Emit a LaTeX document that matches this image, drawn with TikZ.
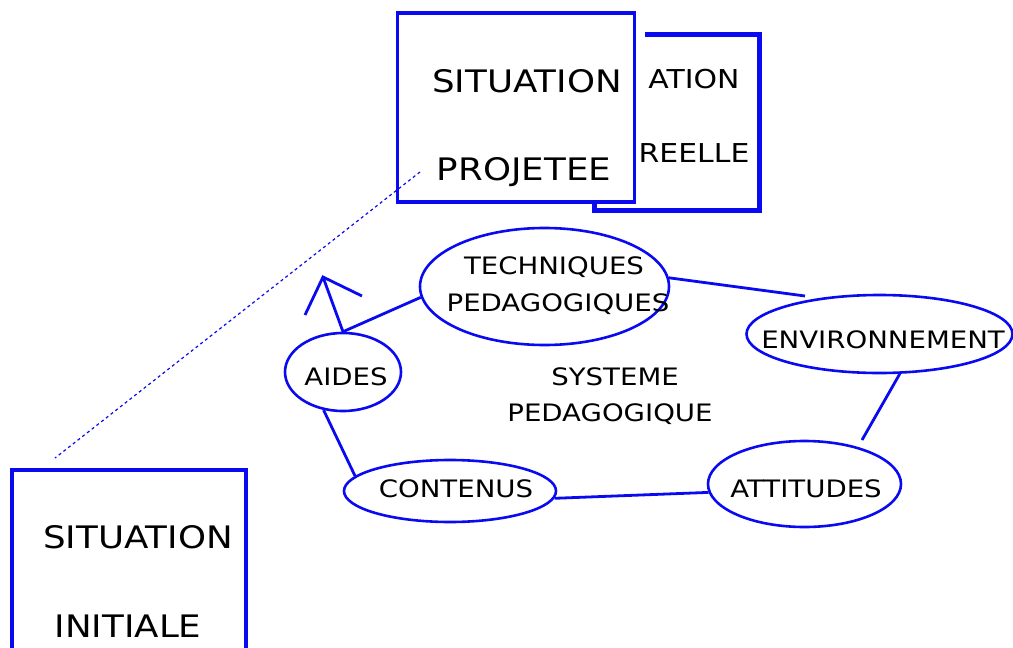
\documentclass[tikz,border=0pt]{standalone}
\usepackage{fontspec}
\setmainfont[FakeStretch=1.15]{DejaVu Sans}
\usetikzlibrary{shapes.geometric}
\definecolor{lineblue}{RGB}{10,10,240}
\begin{document}
\begin{tikzpicture}[x=1pt,y=-1pt,
  box/.style={draw=lineblue,line width=3.4pt,rectangle,inner sep=0pt},
  oval/.style={draw=lineblue,line width=2.6pt,ellipse,inner sep=0pt},
  link/.style={draw=lineblue,line width=2.8pt},
  lbl/.style={anchor=base,inner sep=0pt,font=\fontsize{24}{28}\selectfont},
  big/.style={anchor=base,inner sep=0pt,font=\fontsize{31}{36}\selectfont},
  mid/.style={anchor=base,inner sep=0pt,font=\fontsize{26}{30}\selectfont}]
\useasboundingbox (0,0) rectangle (1013,648);
% back box (situation reelle)
\draw[lineblue,line width=5pt] (645,34) -- (759,34) -- (759,210) -- (594,210) -- (594,202);
\node[mid] (ation) at (694,88) {ATION};
\node[mid] (reelle) at (694,162) {REELLE};
% projected situation
\node[box,minimum width=237pt,minimum height=189pt] (proj) at (516,107.5) {};
\node[big] (sit1) at (527,92) {SITUATION};
\node[big] (projt) at (524,180) {PROJETEE};
% initial situation
\node[box,minimum width=234pt,minimum height=200pt] (init) at (129,570) {};
\node[big] (sit2) at (138,548) {SITUATION};
\node[big] (initt) at (128,637) {INITIALE};
% dotted link
\coordinate (d1) at (420,172);
\coordinate (d2) at (55,458);
\draw[lineblue,line width=1.2pt,dash pattern=on 3pt off 3pt] (d1) -- (d2);
% ellipses
\node[oval,minimum width=249pt,minimum height=117pt] (tech) at (544.5,286.5) {};
\node[lbl] (techa) at (554,274) {TECHNIQUES};
\node[lbl] (techb) at (558,311) {PEDAGOGIQUES};
\node[oval,minimum width=116pt,minimum height=78pt] (aides) at (343,372) {};
\node[lbl] (aidest) at (346,385) {AIDES};
\node[oval,minimum width=266pt,minimum height=78pt] (env) at (879.5,334) {};
\node[lbl] (envt) at (883,348) {ENVIRONNEMENT};
\node[oval,minimum width=193pt,minimum height=86pt] (att) at (804.5,484) {};
\node[lbl] (attt) at (806,497) {ATTITUDES};
\node[oval,minimum width=212pt,minimum height=62pt] (cont) at (450,491) {};
\node[lbl] (contt) at (456,497) {CONTENUS};
\node[lbl] (sys1) at (615,385) {SYSTEME};
\node[lbl] (sys2) at (610,421) {PEDAGOGIQUE};
% connectors
\draw[link] (aides.north) -- (tech.185);
\coordinate (tip) at (323,277);
\coordinate (hl) at (305,315);
\coordinate (hr) at (362,296);
\draw[link] (aides.north) -- (tip);
\draw[link] (hl) -- (tip) -- (hr);
\coordinate (envin) at (805,296);
\draw[link] (tech.4) -- (envin);
\coordinate (attin) at (862,440);
\draw[link] (env.-63) -- (attin);
\draw[link] (att.185) -- (cont.-4);
\draw[link] (cont.171) -- (aides.-117);
\end{tikzpicture}
\end{document}
